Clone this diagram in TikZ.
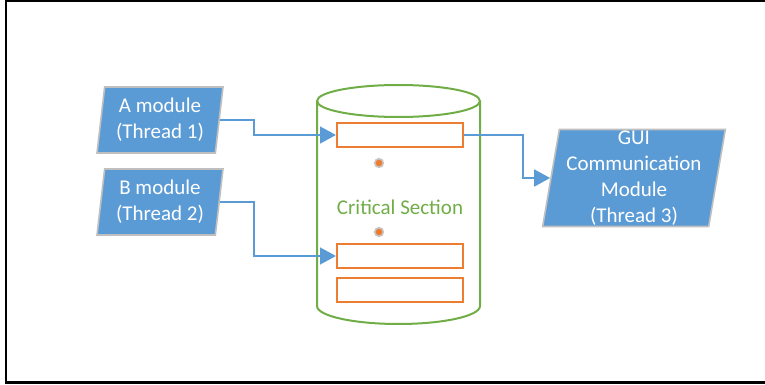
\documentclass[tikz,border=0pt]{standalone}
\usepackage{fontspec}
\setmainfont{Carlito}
\usepackage{xcolor}
\usepackage{tikz}
\usetikzlibrary{positioning, shapes.geometric, arrows.meta}

\definecolor{modblue}{HTML}{5B9BD5}
\definecolor{slotorange}{HTML}{ED7D31}
\definecolor{csgreen}{HTML}{70AD47}

\begin{document}
\begin{tikzpicture}[x=0.75pt, y=-0.75pt,
    every node/.style={font=\fontsize{15.75}{19.5}\selectfont},
    thread/.style={trapezium, trapezium left angle=80, trapezium right angle=100,
      trapezium stretches body, fill=modblue, draw=black!25, line width=1.2pt,
      text=white, align=center, inner sep=0pt},
    slot/.style={draw=slotorange, line width=1.5pt, minimum width=94.5pt,
      minimum height=18pt, inner sep=0pt},
    marker/.style={circle, fill=slotorange, draw=black!22, line width=1.2pt,
      minimum size=6.5pt, inner sep=0pt},
    link/.style={draw=modblue, line width=2pt, -{Triangle[length=12pt, width=12.5pt]}}]
      \useasboundingbox (0,0) rectangle (765,385);

      % Frame
      \draw[line width=1.6pt] (765,1) -- (6,1) -- (6,382.5) -- (765,382.5);

      % Critical section (cylinder)
      \draw[csgreen, line width=1.5pt] (317,101) -- (317,306)
        arc[start angle=180, end angle=0, x radius=81.5, y radius=18] -- (480,101);
      \draw[csgreen, line width=1.5pt] (398.5,101) ellipse[x radius=81.5, y radius=16];
      \node[text=csgreen] (cs) at (400,207) {Critical Section};

      % Slots inside the critical section
      \node[slot] (slot1) at (400,135) {};
      \node[slot] (slot2) at (400,256) {};
      \node[slot] (slot3) at (400,289.5) {};

      \node[marker] (dot1) at (379,163) {};
      \node[marker] (dot2) at (379,232) {};

      % Threads
      \node[thread, minimum width=94.5pt, minimum height=49.5pt] (amod) at (160,120) {
        A module\\(Thread 1)
      };

      \node[thread, minimum width=94.5pt, minimum height=49.5pt] (bmod) at (160,202) {
        B module\\(Thread 2)
      };

      \node[thread, minimum width=137pt, minimum height=72.75pt] (gui) at (634,178) {
        GUI\\Communication\\Module\\(Thread 3)
      };

      % Arrows
      \draw[link] (amod.east) -- ++(34,0) |- (slot1.west);
      \draw[link] (bmod.east) -- ++(34,0) |- (slot2.west);
      \draw[link] (slot1.east) -- ++(59,0) |- (gui.west);
\end{tikzpicture}
\end{document}
